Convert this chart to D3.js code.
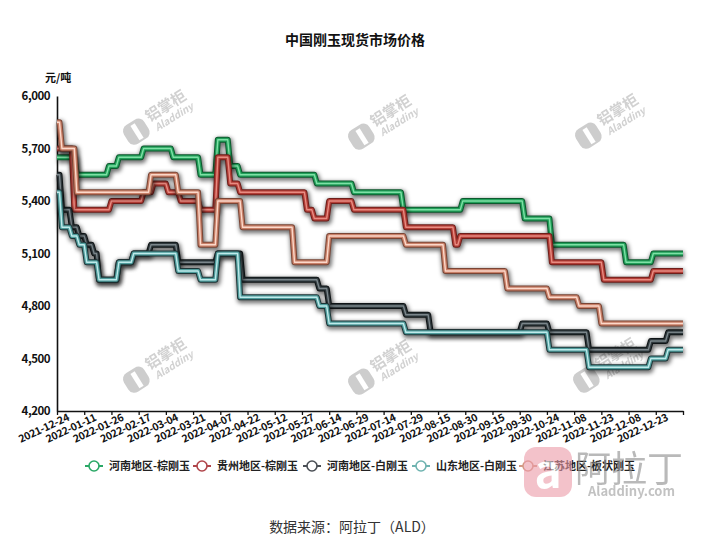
<!DOCTYPE html>
<html><head><meta charset="utf-8">
<script src="https://cdn.jsdelivr.net/npm/d3@7"></script>
<style>
body{margin:0;background:#fff}
svg{display:block}
text{font-family:"Noto Sans CJK SC","Noto Sans",sans-serif}
</style>
</head><body><svg id="c" width="706" height="545"></svg>
<script>
// ---------- data ----------
const dateLabels = ["2021-12-24","2022-01-11","2022-01-26","2022-02-17","2022-03-04","2022-03-21","2022-04-07","2022-04-22","2022-05-12","2022-05-27","2022-06-14","2022-06-29","2022-07-14","2022-07-29","2022-08-15","2022-08-30","2022-09-15","2022-09-30","2022-10-24","2022-11-08","2022-11-23","2022-12-08","2022-12-23"];
const tickDays = [0,11,22,33,44,55,66,77,88,99,110,121,132,143,154,165,176,187,198,209,220,231,242,253];
const totalDays = 253;
const yTicks = [4200,4500,4800,5100,5400,5700,6000];
const seriesNames = ["河南地区-棕刚玉","贵州地区-棕刚玉","河南地区-白刚玉","山东地区-白刚玉","江苏地区-板状刚玉"];

// [trading-day index, price] at each price change
const henanBrown = [[0,5650],[8,5550],[21,5600],[25,5650],[35,5700],[47,5650],[58,5550],[65,5750],[70,5600],[74,5550],[105,5500],[120,5450],[140,5350],[164,5400],[189,5300],[200,5150],[230,5050],[241,5100]];
const guizhouBrown = [[0,5700],[7,5350],[22,5400],[35,5450],[39,5500],[45,5450],[50,5400],[58,5350],[65,5650],[70,5500],[74,5450],[101,5350],[104,5300],[110,5400],[120,5350],[141,5250],[161,5150],[163,5200],[200,5050],[221,4950],[241,5000]];
const henanWhite = [[0,5550],[2,5350],[6,5250],[9,5200],[12,5150],[15,5100],[17,4950],[25,5050],[31,5100],[38,5150],[49,5050],[65,5100],[75,4950],[106,4900],[110,4800],[141,4750],[151,4650],[188,4700],[199,4650],[215,4550],[240,4600],[247,4650]];
const shandongWhite = [[0,5450],[2,5250],[6,5200],[9,5150],[12,5050],[17,4950],[25,5050],[31,5100],[49,5000],[58,4950],[65,5100],[74,4850],[106,4800],[110,4700],[141,4650],[199,4550],[215,4450],[240,4500],[247,4550]];
const jiangsuTabular = [[0,5850],[2,5700],[8,5450],[38,5550],[49,5450],[58,5150],[65,5400],[75,5250],[96,5050],[110,5200],[141,5150],[157,5000],[182,4900],[199,4850],[211,4800],[220,4700]];

const seriesData = [henanBrown, guizhouBrown, henanWhite, shandongWhite, jiangsuTabular];
// styles: [outer, body, highlight]
const seriesStyle = [
  ["#0c5a2e","#22a05a","#7fe0a6"],
  ["#6e1f1b","#b33e37","#e88c82"],
  ["#0f1416","#2f383c","#7b868b"],
  ["#1d3537","#4f9c9c","#bfeaea"],
  ["#7a4535","#c98068","#fbd8ca"]
];
const legendColor = ["#2aa866","#b0454a","#4a4f55","#6fb3b0","#d49a86"];

// ---------- chart ----------
const svg = d3.select("#c");
const x = d3.scaleLinear().domain([0,totalDays]).range([57,683]);
const y = d3.scaleLinear().domain([4200,6000]).range([411,96]);

const defs = svg.append("defs");
const f = defs.append("filter").attr("id","sh").attr("x","-10%").attr("y","-20%").attr("width","120%").attr("height","140%");
f.append("feGaussianBlur").attr("stdDeviation",2.2);

// watermarks
const wmPos = [[155,120],[380,125],[607,124],[155,368],[380,370],[605,368]];
wmPos.forEach(p=>{
  const g = svg.append("g").attr("transform",`translate(${p[0]},${p[1]}) rotate(-32)`).attr("opacity",0.75);
  g.append("rect").attr("x",-34).attr("y",-11).attr("width",24).attr("height",22).attr("rx",7).attr("fill","#bdbdbd");
  g.append("rect").attr("x",-24).attr("y",-8).attr("width",5).attr("height",17).attr("fill","#fff");
  g.append("text").attr("x",-6).attr("y",-1).attr("font-size",15).attr("font-weight",700).attr("fill","#c2c2c2").text("铝掌柜");
  g.append("text").attr("x",-4).attr("y",11).attr("font-size",10).attr("font-weight",700).attr("font-style","italic").attr("fill","#c2c2c2").text("Aladdiny");
});

// title
svg.append("text").attr("x",355).attr("y",45).attr("text-anchor","middle")
  .attr("font-size",14).attr("font-weight",700).attr("fill","#111").text("中国刚玉现货市场价格");

// unit
svg.append("text").attr("x",45).attr("y",82).attr("font-size",11).attr("font-weight",700).attr("fill","#111").text("元/吨");

// y axis
const yAxis = d3.axisLeft(y).tickValues(yTicks).tickFormat(d3.format(",")).tickSize(0).tickPadding(7);
const gy = svg.append("g").attr("transform","translate(57,0)").call(yAxis);
gy.select(".domain").attr("stroke","#111").attr("stroke-width",1.6);
gy.selectAll("text").attr("font-size",11.5).attr("font-weight",700).attr("fill","#111")
  .attr("font-family","'Noto Sans','Open Sans',sans-serif").attr("letter-spacing","-0.5");

// x axis
const xAxis = d3.axisBottom(x).tickValues(tickDays).tickFormat(()=> "").tickSize(4).tickSizeOuter(0);
const gx = svg.append("g").attr("transform","translate(0,411)").call(xAxis);
gx.select(".domain").attr("stroke","#111").attr("stroke-width",1.6);
gx.selectAll(".tick line").attr("stroke","#111").attr("stroke-width",1.3);
gx.selectAll(".lbl").data(dateLabels).enter().append("text")
  .attr("class","lbl")
  .attr("transform",(d,i)=>`translate(${x(tickDays[i])+13},9) rotate(-25)`)
  .attr("text-anchor","end").attr("font-size",10.5).attr("font-weight",700).attr("fill","#111")
  .attr("font-family","'Noto Sans','Open Sans',sans-serif").attr("letter-spacing","-0.3")
  .text(d=>d);

// lines
function stepPoints(data){
  const pts = [];
  data.forEach((d,i)=>{
    if(i>0) pts.push([d[0]-1, data[i-1][1]]);
    pts.push([d[0], d[1]]);
  });
  pts.push([totalDays, data[data.length-1][1]]);
  return pts;
}
const line = d3.line().x(p=>x(p[0])).y(p=>y(p[1]));
seriesData.forEach((data,i)=>{
  const pts = stepPoints(data);
  const st = seriesStyle[i];
  const g = svg.append("g");
  g.append("path").attr("d",line(pts)).attr("fill","none").attr("stroke","#000").attr("stroke-opacity",0.55)
    .attr("stroke-width",8).attr("stroke-linejoin","round").attr("filter","url(#sh)").attr("transform","translate(1,2)");
  g.append("path").attr("d",line(pts)).attr("fill","none").attr("stroke",st[0]).attr("stroke-width",6).attr("stroke-linejoin","round");
  g.append("path").attr("d",line(pts)).attr("fill","none").attr("stroke",st[1]).attr("stroke-width",4).attr("stroke-linejoin","round");
  g.append("path").attr("d",line(pts)).attr("fill","none").attr("stroke",st[2]).attr("stroke-width",1.4).attr("stroke-linejoin","round");
});

// legend
const legX = [94,202,312,421,528];
seriesNames.forEach((n,i)=>{
  const g = svg.append("g").attr("transform",`translate(${legX[i]},466)`);
  g.append("line").attr("x1",-9).attr("x2",9).attr("stroke",legendColor[i]).attr("stroke-width",2);
  g.append("circle").attr("r",5).attr("fill","#fff").attr("stroke",legendColor[i]).attr("stroke-width",1.6);
  g.append("text").attr("x",15).attr("y",4).attr("font-size",11).attr("font-weight",700).attr("fill","#222").text(n);
});

// bottom-right logo
const lg = svg.append("g").attr("opacity",0.6);
lg.append("rect").attr("x",524).attr("y",447).attr("width",48).attr("height",50).attr("rx",12).attr("fill","#ec9aa8");
lg.append("text").attr("x",548).attr("y",488).attr("text-anchor","middle").attr("font-size",46).attr("font-weight",700).attr("fill","#fff").text("a");
lg.append("text").attr("x",575).attr("y",482).attr("font-size",36).attr("fill","#8c8c8c").attr("font-family","'Noto Serif CJK SC','Noto Sans CJK SC',serif").text("阿拉丁");
lg.append("text").attr("x",588).attr("y",496).attr("font-size",13).attr("font-weight",700).attr("fill","#9a9a9a").text("Aladdiny.com");

// source
svg.append("text").attr("x",352).attr("y",532).attr("text-anchor","middle").attr("font-size",14).attr("fill","#333").text("数据来源：阿拉丁（ALD）");
</script>
</body></html>
